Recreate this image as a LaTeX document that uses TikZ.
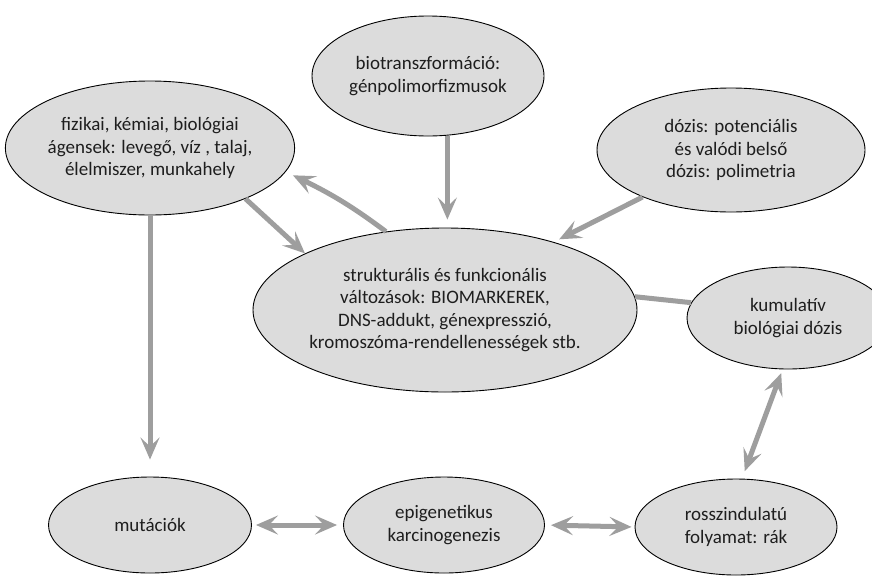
\documentclass[tikz,border=0pt]{standalone}
\usepackage{fontspec}
\setmainfont{Carlito}
\usetikzlibrary{positioning,arrows.meta,shapes.geometric,bending}
\definecolor{ellipsefill}{HTML}{DCDCDC}
\definecolor{arrowgray}{HTML}{9E9E9E}
\definecolor{textdark}{HTML}{1E1E1E}

\begin{document}
\begin{tikzpicture}
    [
      x=1pt, y=-1pt,
      >/.tip={Stealth[length=22pt,width=19pt,inset=9pt]},
      line width=1pt,
      my ellipse/.style={ellipse, draw=black, fill=ellipsefill, line width=0.9pt, inner sep=0pt, align=center, text=textdark, font=\fontsize{19}{22.3}\selectfont},
      my arrow/.style={draw=arrowgray, line width=5pt}
    ]
    \useasboundingbox (0,0) rectangle (872,576);
    \node (agens) [my ellipse, minimum width=270pt, minimum height=134pt] at (150,148) {fizikai, kémiai, biológiai\\ágensek: levegő, víz , talaj,\\élelmiszer, munkahely};
    \node (bio) [my ellipse, minimum width=232pt, minimum height=120pt] at (428,76) {biotranszformáció:\\génpolimorfizmusok};
    \node (dozis) [my ellipse, minimum width=268pt, minimum height=124pt] at (731,150) {dózis: potenciális\\és valódi belső\\dózis: polimetria};
    \node (valtozas) [my ellipse, minimum width=384pt, minimum height=164pt] at (445,310) {strukturális és funkcionális\\változások: BIOMARKEREK,\\DNS-addukt, génexpresszió,\\kromoszóma-rendellenességek stb.};
    \node (kumulativ) [my ellipse, minimum width=202pt, minimum height=102pt] at (788,318) {kumulatív\\biológiai dózis};
    \node (rak) [my ellipse, minimum width=202pt, minimum height=96pt] at (736,527) {rosszindulatú\\folyamat: rák};
    \node (epi) [my ellipse, minimum width=201pt, minimum height=96pt] at (444,525) {epigenetikus\\karcinogenezis};
    \node (mutacio) [my ellipse, minimum width=203pt, minimum height=96pt] at (150,525) {mutációk};

    \path [my arrow, ->] (agens.-28) -- (valtozas.158);
    \path [my arrow, ->, shorten >=8pt] (valtozas.127) to [bend right=6] (agens.-10);
    \path [my arrow, ->, shorten >=8pt] (bio.-72) -- (bio.-72 |- valtozas.north);
    \path [my arrow, ->, shorten >=6pt] (dozis.208) -- (valtozas.32);
    \path [my arrow, ->, shorten >=17pt] (agens.south) -- (mutacio.north);
    \path [my arrow] (valtozas.4) -- (kumulativ.171);
    \path [my arrow, <->, shorten <=4pt, shorten >=8pt] (kumulativ.-96) -- (rak.83);
    \path [my arrow, <->, shorten <=4pt, shorten >=6pt] (mutacio.east) -- (epi.west);
    \path [my arrow, <->, shorten <=6pt, shorten >=3pt] (epi.east) -- (rak.west);
  \end{tikzpicture}
\end{document}
